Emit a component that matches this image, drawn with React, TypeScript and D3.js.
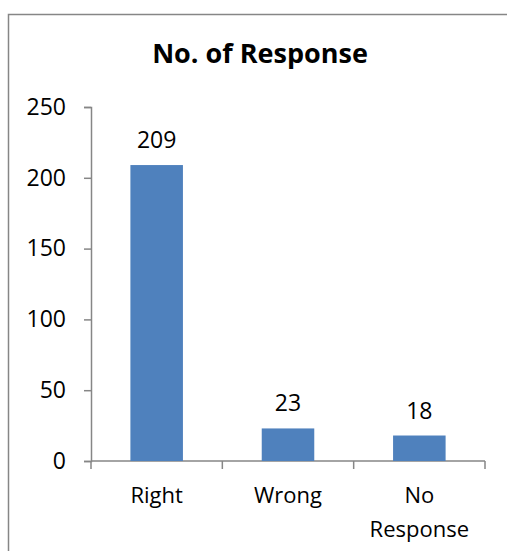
import { useEffect, useRef } from 'react'
import * as d3 from 'd3'

const categories = ['Right', 'Wrong', 'No Response']
const values = [209, 23, 18]
const yTicks = [0, 50, 100, 150, 200, 250]
const title = 'No. of Response'

const W = 507
const H = 551
const FONT = '"Open Sans", Lato, sans-serif'
const AXIS = '#868686'
const BAR = '#4F81BD'

export default function App() {
  const ref = useRef<SVGSVGElement>(null)

  useEffect(() => {
    if (!ref.current) return
    const svg = d3.select(ref.current)
    svg.selectAll('*').remove()

    // chart frame (runs off the right and bottom edges)
    svg.append('rect')
      .attr('x', 8.5).attr('y', 14.5)
      .attr('width', W).attr('height', H)
      .attr('fill', '#fff').attr('stroke', AXIS).attr('stroke-width', 1.5)

    const left = 91
    const right = 485
    const top = 107
    const bottom = 461

    const x = d3.scaleBand().domain(categories).range([left, right]).paddingInner(0.6).paddingOuter(0.3)
    const y = d3.scaleLinear().domain([0, 250]).range([bottom, top])

    svg.append('text')
      .attr('x', 260).attr('y', 63)
      .attr('text-anchor', 'middle')
      .attr('font-family', FONT).attr('font-weight', 700).attr('font-size', 27)
      .attr('fill', '#000')
      .text(title)

    // y axis
    const yAxis = svg.append('g')
      .attr('transform', `translate(${left},0)`)
      .call(d3.axisLeft(y).tickValues(yTicks).tickSize(7).tickSizeOuter(7).tickPadding(18))
    yAxis.select('.domain').attr('stroke', AXIS).attr('stroke-width', 1.5)
    yAxis.selectAll('.tick line').attr('stroke', AXIS).attr('stroke-width', 1.5)
    yAxis.selectAll('.tick text')
      .attr('fill', '#000').attr('font-family', FONT).attr('font-size', 23)

    // x axis: baseline plus ticks at category boundaries
    const bounds = d3.range(categories.length + 1).map((i) => left + i * (right - left) / categories.length)
    svg.append('line')
      .attr('x1', left).attr('x2', right).attr('y1', bottom).attr('y2', bottom)
      .attr('stroke', AXIS).attr('stroke-width', 1.5)
    svg.selectAll('line.xtick')
      .data(bounds)
      .join('line')
      .attr('class', 'xtick')
      .attr('x1', (d) => d).attr('x2', (d) => d)
      .attr('y1', bottom).attr('y2', bottom + 8)
      .attr('stroke', AXIS).attr('stroke-width', 1.5)

    const lbl = svg.selectAll('text.xlabel')
      .data(categories)
      .join('text')
      .attr('class', 'xlabel')
      .attr('text-anchor', 'middle')
      .attr('font-family', FONT).attr('font-size', 22).attr('fill', '#000')
      .attr('y', 503)
    lbl.each(function (d) {
      const cx = (x(d) ?? 0) + x.bandwidth() / 2
      const words = d === 'No Response' ? ['No', 'Response'] : [d]
      d3.select(this).selectAll('tspan')
        .data(words)
        .join('tspan')
        .attr('x', cx)
        .attr('dy', (_, i) => (i === 0 ? 0 : 34))
        .text((w) => w)
    })

    // bars
    svg.selectAll('rect.bar')
      .data(values)
      .join('rect')
      .attr('class', 'bar')
      .attr('x', (_, i) => x(categories[i]) ?? 0)
      .attr('width', x.bandwidth())
      .attr('y', (d) => y(d))
      .attr('height', (d) => bottom - y(d))
      .attr('fill', BAR)

    svg.selectAll('text.val')
      .data(values)
      .join('text')
      .attr('class', 'val')
      .attr('text-anchor', 'middle')
      .attr('x', (_, i) => (x(categories[i]) ?? 0) + x.bandwidth() / 2)
      .attr('y', (d) => y(d) - 17)
      .attr('font-family', FONT).attr('font-size', 23).attr('fill', '#000')
      .text((d) => d)
  }, [])

  return (
    <svg
      ref={ref}
      width={W}
      height={H}
      style={{ position: 'absolute', left: 0, top: 0, display: 'block', background: '#fff' }}
    />
  )
}
